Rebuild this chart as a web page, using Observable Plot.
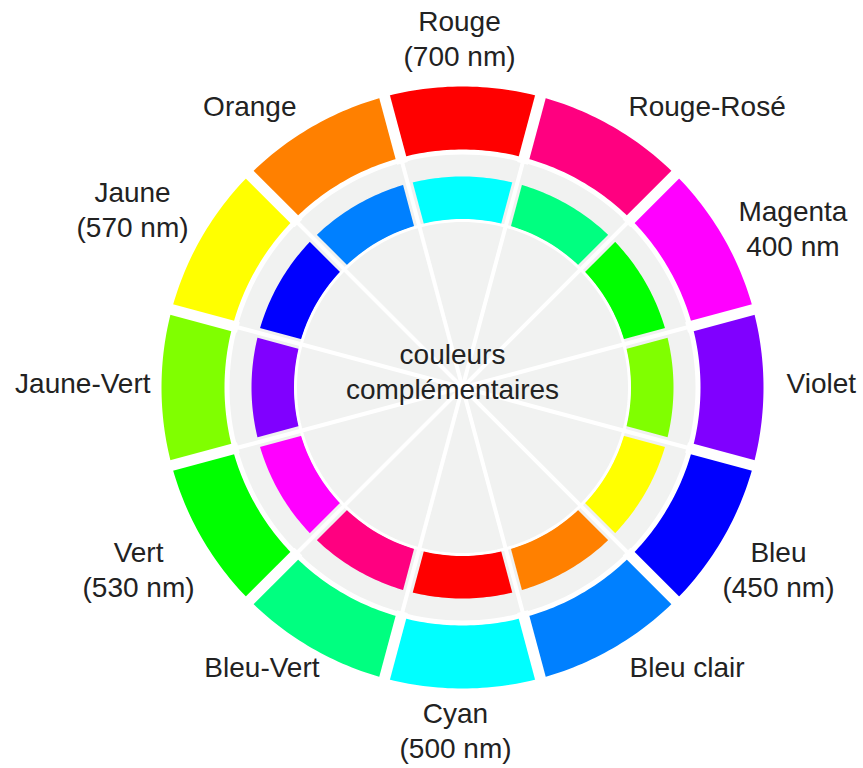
<!DOCTYPE html>
<html><head><meta charset="utf-8">
<script src="https://cdn.jsdelivr.net/npm/d3@7"></script>
<script src="https://cdn.jsdelivr.net/npm/@observablehq/plot@0.6"></script>
<style>body{margin:0;background:#fff}</style>
</head><body><div id="chart"></div>
<script>
// ---- data ----
const names = ["Rouge","Rouge-Rosé","Magenta","Violet","Bleu","Bleu clair","Cyan","Bleu-Vert","Vert","Jaune-Vert","Jaune","Orange"];
const wavelengths = ["(700 nm)","","400 nm","","(450 nm)","","(500 nm)","","(530 nm)","","(570 nm)",""];
const outerColors = ["#ff0000","#ff0080","#ff00ff","#8000ff","#0000ff","#0080ff","#00ffff","#00ff80","#00ff00","#80ff00","#ffff00","#ff8000"];
const innerColors = ["#00ffff","#00ff80","#00ff00","#80ff00","#ffff00","#ff8000","#ff0000","#ff0080","#ff00ff","#8000ff","#0000ff","#0080ff"];
const centerText = "couleurs\ncomplémentaires";

// ---- layout ----
const W = 863, H = 768, cx = 462, cy = 387;
const R1 = 301, R0 = 238, G = 233, I1 = 211, I0 = 168;
const FONT = 28, LH = 1.25;
const gray = "#f1f2f1";
// hand-placement tweaks of the labels (pixels), in label order
const labelNudge = [[-3,-1],[9,4],[4,14],[10,-6],[-12,6],[10,-9],[-7,-7],[14,-9],[4,6],[2,-6],[-2,-5],[-9,4]];
const step = 360 / names.length;
const rad = d => d * Math.PI / 180;
const px = (r, a) => r * Math.sin(rad(a));
const py = (r, a) => -r * Math.cos(rad(a));

function arcPts(id, color, a0, a1, r0, r1) {
  const pts = [], n = 32;
  for (let k = 0; k <= n; k++) { const a = a0 + (a1 - a0) * k / n; pts.push({id, color, x: px(r1, a), y: py(r1, a)}); }
  for (let k = n; k >= 0; k--) { const a = a0 + (a1 - a0) * k / n; pts.push({id, color, x: px(r0, a), y: py(r0, a)}); }
  return pts;
}
function circlePts(id, r) {
  return d3.range(0, 361, 2).map(a => ({id, x: px(r, a), y: py(r, a)}));
}

const outerPts = names.flatMap((n, i) => arcPts("o" + i, outerColors[i], i * step - step / 2, i * step + step / 2, R0, R1));
const innerPts = names.flatMap((n, i) => arcPts("i" + i, innerColors[i], i * step - step / 2, i * step + step / 2, I0, I1));
const bounds = names.map((n, i) => i * step + step / 2);

// labels: anchored outside the ring, pushed away by half the block size
const ctx = document.createElement("canvas").getContext("2d");
ctx.font = `${FONT}px 'Liberation Sans'`;
const LR = 314;
const labels = names.map((n, i) => {
  const text = wavelengths[i] ? n + "\n" + wavelengths[i] : n;
  const lines = text.split("\n");
  const w = Math.max(...lines.map(l => ctx.measureText(l).width));
  const h = lines.length * FONT * LH;
  const a = i * step;
  const s = Math.sin(rad(a)), c = Math.cos(rad(a));
  const sx = Math.abs(s) < 0.1 ? 0 : Math.sign(s);
  return {text, x: px(LR, a) + sx * w / 2 + labelNudge[i][0], y: py(LR, a) - c * h / 2 + labelNudge[i][1]};
});

const chart = Plot.plot({
  width: W, height: H, margin: 0,
  x: {domain: [-cx, W - cx], range: [0, W], axis: null},
  y: {domain: [-cy, H - cy], range: [0, H], axis: null},
  color: {type: "identity"},
  style: {fontFamily: "'Liberation Sans', Arial, sans-serif", background: "white"},
  marks: [
    Plot.line(circlePts("g", G), {x: "x", y: "y", fill: gray, stroke: "none", curve: "linear-closed"}),
    Plot.line(innerPts, {x: "x", y: "y", z: "id", fill: "color", stroke: "none", curve: "linear-closed"}),
    Plot.line(outerPts, {x: "x", y: "y", z: "id", fill: "color", stroke: "none", curve: "linear-closed"}),
    Plot.link(bounds, {x1: a => px(I0 - 4, a), y1: a => py(I0 - 4, a), x2: a => px(I1 + 4, a), y2: a => py(I1 + 4, a), stroke: gray, strokeWidth: 10}),
    Plot.line(circlePts("w", I0 - 1), {x: "x", y: "y", stroke: "white", strokeWidth: 3, curve: "linear-closed"}),
    Plot.link(bounds, {x1: 0, y1: 0, x2: a => px(G, a), y2: a => py(G, a), stroke: "white", strokeWidth: 4}),
    Plot.link(bounds, {x1: a => px(G - 1, a), y1: a => py(G - 1, a), x2: a => px(R1 + 6, a), y2: a => py(R1 + 6, a), stroke: "white", strokeWidth: 11}),
    Plot.text(labels, {x: "x", y: "y", text: "text", fontSize: FONT, lineHeight: LH, fill: "#222"}),
    Plot.text([centerText], {x: 0, y: 0, dx: -10, dy: -17, text: d => d, fontSize: FONT, lineHeight: 1.22, fill: "#222"})
  ]
});
document.getElementById("chart").appendChild(chart);
</script>
</body></html>
